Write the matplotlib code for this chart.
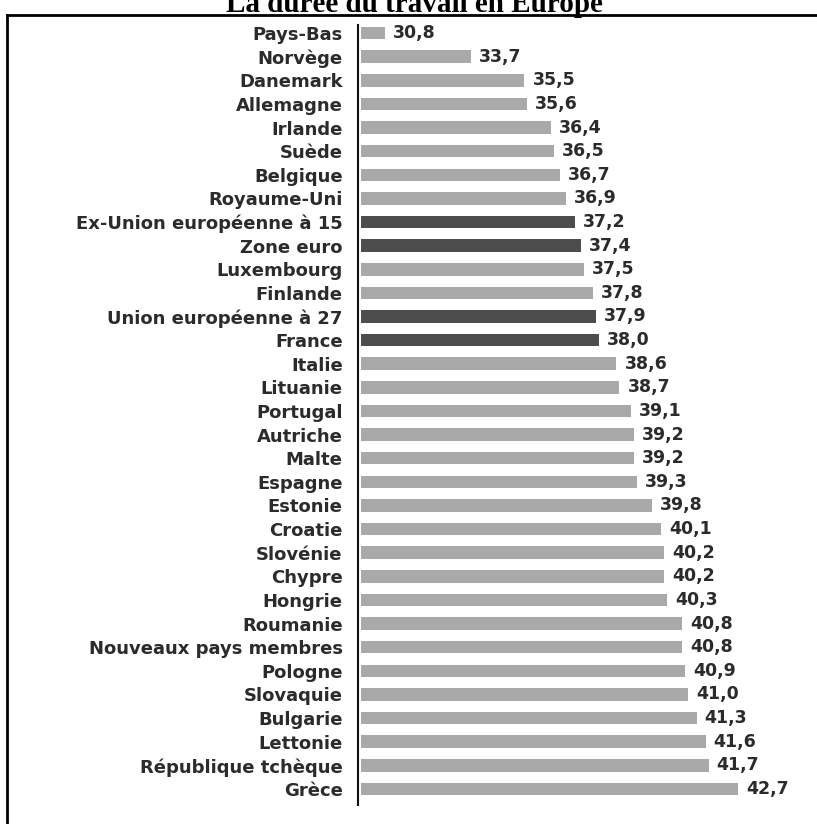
import matplotlib
matplotlib.use("Agg")
import matplotlib.pyplot as plt
from matplotlib.lines import Line2D
import numpy as np

# ---------- Data ----------
countries = [
    "Pays-Bas", "Norvège", "Danemark", "Allemagne", "Irlande", "Suède",
    "Belgique", "Royaume-Uni", "Ex-Union européenne à 15", "Zone euro",
    "Luxembourg", "Finlande", "Union européenne à 27", "France", "Italie",
    "Lituanie", "Portugal", "Autriche", "Malte", "Espagne", "Estonie",
    "Croatie", "Slovénie", "Chypre", "Hongrie", "Roumanie",
    "Nouveaux pays membres", "Pologne", "Slovaquie", "Bulgarie", "Lettonie",
    "République tchèque", "Grèce",
]
hours = [
    30.8, 33.7, 35.5, 35.6, 36.4, 36.5, 36.7, 36.9, 37.2, 37.4, 37.5, 37.8,
    37.9, 38.0, 38.6, 38.7, 39.1, 39.2, 39.2, 39.3, 39.8, 40.1, 40.2, 40.2,
    40.3, 40.8, 40.8, 40.9, 41.0, 41.3, 41.6, 41.7, 42.7,
]
highlight = ["Ex-Union européenne à 15", "Zone euro", "Union européenne à 27", "France"]

LIGHT = "#a9a9a9"
DARK = "#4d4d4d"
TEXT = "#2b2b2b"
BASE = 30.0

W, H = 817, 824
fig = plt.figure(figsize=(W / 100, H / 100), dpi=100)

# axes placed in pixel terms: axis line at x=358, from y=25 to y=805
ax = fig.add_axes([358 / W, (H - 805) / H, (W - 358) / W, (805 - 25) / H])

y = np.arange(len(countries))
colors = [DARK if c in highlight else LIGHT for c in countries]
vals = np.array(hours)
ax.barh(y, vals - BASE, left=BASE, height=0.53, color=colors, edgecolor="none")

for yi, v in zip(y, hours):
    ax.text(v + 0.27, yi, f"{v:.1f}".replace(".", ","), va="center", ha="left",
            fontsize=12.5, fontweight="bold", color=TEXT, family="DejaVu Sans")

ax.set_xlim(29.9, 45.35)
ax.set_ylim(32.68, -0.34)
ax.set_yticks(y)
ax.set_yticklabels(countries, fontsize=13, fontweight="bold", color=TEXT, family="DejaVu Sans")
ax.tick_params(axis="y", length=0, pad=11)
ax.set_xticks([])
for s in ["top", "right", "bottom"]:
    ax.spines[s].set_visible(False)
ax.spines["left"].set_linewidth(1.5)
ax.spines["left"].set_color("#111111")

# frame around the chart (top and left edges visible)
fig.add_artist(Line2D([7 / W, 1], [(H - 15) / H] * 2, color="black", lw=2))
fig.add_artist(Line2D([7 / W] * 2, [0, (H - 15) / H], color="black", lw=2))

# title sits partly above the top edge, as in the reference
fig.text(414 / W, (H - 12) / H, "La durée du travail en Europe", ha="center", va="baseline",
         fontsize=21, fontweight="bold", family="Liberation Serif")

fig.savefig("out.png", dpi=100)
